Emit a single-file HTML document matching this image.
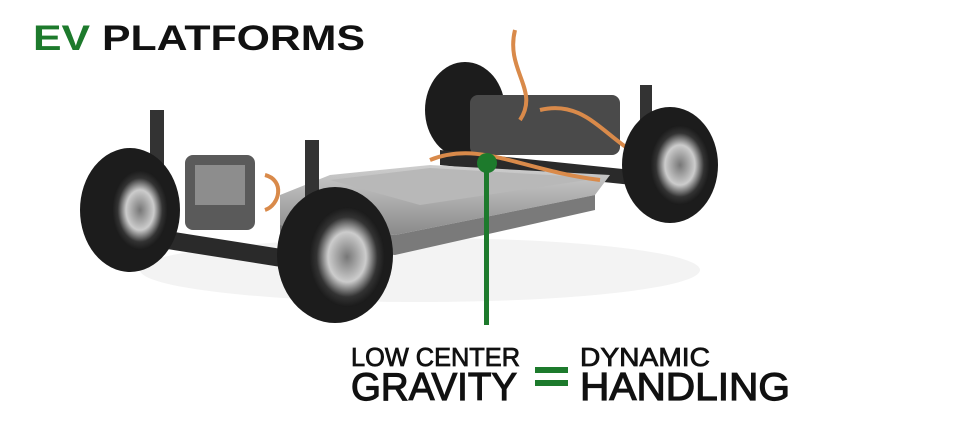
<!DOCTYPE html>
<html><head><style>
html,body{margin:0;padding:0;background:#fff;}
svg{display:block;}
text{font-family:"Liberation Sans",sans-serif;}
</style></head><body>
<svg width="955" height="446" viewBox="0 0 955 446">
<defs>
<radialGradient id="rim" cx="50%" cy="50%" r="50%">
<stop offset="0" stop-color="#777"/><stop offset="0.5" stop-color="#ccc"/><stop offset="0.8" stop-color="#333"/><stop offset="1" stop-color="#1a1a1a"/>
</radialGradient>
<linearGradient id="bat" x1="0" y1="0" x2="0" y2="1">
<stop offset="0" stop-color="#cfcfcf"/><stop offset="1" stop-color="#8a8a8a"/>
</linearGradient>
</defs>
<text x="33" y="50" font-size="35" font-weight="bold" textLength="332" lengthAdjust="spacingAndGlyphs"><tspan fill="#1d7a2c">EV</tspan><tspan fill="#111"> PLATFORMS</tspan></text>
<!-- shadow -->
<ellipse cx="420" cy="270" rx="280" ry="32" fill="#f3f3f3"/>
<ellipse cx="465" cy="110" rx="40" ry="48" fill="#1c1c1c"/>
<polygon points="110,240 300,270 320,255 130,225" fill="#2a2a2a"/>
<polygon points="440,150 680,175 680,190 440,165" fill="#2a2a2a"/>
<polygon points="280,195 330,175 430,165 610,175 595,195 395,235 280,225" fill="url(#bat)"/>
<polygon points="280,225 395,235 595,195 595,210 395,255 280,245" fill="#7a7a7a"/>
<polygon points="330,180 430,168 600,178 420,205" fill="#b8b8b8"/>
<rect x="185" y="155" width="70" height="75" rx="8" fill="#5a5a5a"/>
<rect x="195" y="165" width="50" height="40" fill="#8d8d8d"/>
<rect x="470" y="95" width="150" height="60" rx="8" fill="#4a4a4a"/>
<path d="M515 30 C505 70 540 90 520 120 M540 110 C580 100 600 130 630 150 M430 160 C480 140 520 170 600 180" stroke="#d98a4a" stroke-width="4" fill="none"/>
<path d="M265 175 C285 180 280 205 265 210" stroke="#d98a4a" stroke-width="4" fill="none"/>
<rect x="150" y="110" width="14" height="70" fill="#333"/>
<rect x="305" y="140" width="14" height="65" fill="#333"/>
<rect x="640" y="85" width="12" height="45" fill="#333"/>
<ellipse cx="130" cy="210" rx="50" ry="62" fill="#1c1c1c"/>
<ellipse cx="140" cy="210" rx="28" ry="40" fill="url(#rim)"/>
<ellipse cx="670" cy="165" rx="48" ry="58" fill="#1c1c1c"/>
<ellipse cx="680" cy="165" rx="30" ry="40" fill="url(#rim)"/>
<ellipse cx="335" cy="255" rx="58" ry="68" fill="#1c1c1c"/>
<ellipse cx="347" cy="257" rx="38" ry="50" fill="url(#rim)"/>
<rect x="484" y="163" width="5" height="162" fill="#1d7a2c"/>
<circle cx="487" cy="163" r="10" fill="#1d7a2c"/>
<g fill="#111" stroke="#111" stroke-width="0.8">
<text x="351" y="366" font-size="26" textLength="169" lengthAdjust="spacingAndGlyphs">LOW CENTER</text>
<text x="351" y="400" font-size="39" stroke-width="1.2" textLength="166" lengthAdjust="spacingAndGlyphs">GRAVITY</text>
<text x="580" y="366" font-size="26" textLength="130" lengthAdjust="spacingAndGlyphs">DYNAMIC</text>
<text x="580" y="400" font-size="39" stroke-width="1.2" textLength="210" lengthAdjust="spacingAndGlyphs">HANDLING</text>
</g>
<rect x="535" y="367" width="33" height="6" fill="#1d7a2c"/>
<rect x="535" y="380" width="33" height="6" fill="#1d7a2c"/>
</svg>
</body></html>
